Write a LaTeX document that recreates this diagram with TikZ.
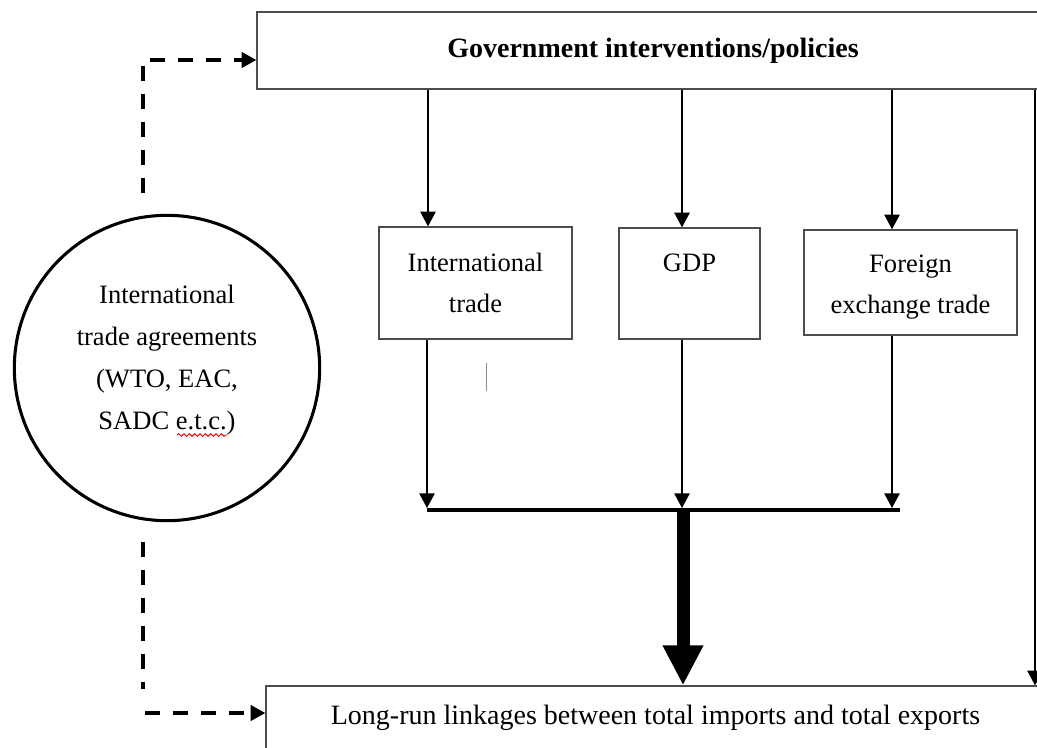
\documentclass[tikz,border=0pt]{standalone}
\usepackage{fontspec}
\setmainfont{Liberation Serif}
\usetikzlibrary{arrows.meta,decorations.pathmorphing}
\tikzset{
  box/.style={draw=black!70, line width=1pt, rectangle, inner sep=0pt, align=center,
    font=\fontsize{19.9}{30.75}\selectfont},
  arr/.style={draw=black, line width=1.1pt, -{Triangle[width=11.5pt,length=11pt]}},
  dasharr/.style={draw=black, line width=2.3pt, dash pattern=on 11.5pt off 9.5pt,
    -{Triangle[width=11.5pt,length=11pt]}},
  dashline/.style={draw=black, line width=2.3pt, dash pattern=on 11.5pt off 9.5pt},
  bar/.style={draw=black, line width=3.6pt},
  bigarr/.style={draw=black, line width=9.75pt, -{Triangle[width=28.5pt,length=30pt]}},
}
\begin{document}
\begin{tikzpicture}[x=0.75pt,y=-0.75pt]
\useasboundingbox (0,0) rectangle (1037,747);
\clip (0,0) rectangle (1037,747);
\fill[white] (0,0) rectangle (1037,747);

% nodes
\node[box, minimum width=594pt, minimum height=57.75pt,
  font=\fontsize{21}{26}\selectfont\bfseries] (gov) at (653,50.5) {Government interventions/policies};
\node[box, minimum width=144.75pt, minimum height=84pt] (it) at (475.5,283) {International\\trade};
\node[box, minimum width=105.75pt, minimum height=83.25pt] (gdp) at (689.5,283.5) {GDP\\\mbox{}};
\node[box, minimum width=159.75pt, minimum height=78.75pt] (fx) at (910.5,282.5)
  {\rule{0pt}{20pt}Foreign\\exchange trade};
\node[box, minimum width=584.25pt, minimum height=48pt,
  font=\fontsize{21}{26}\selectfont] (lr) at (655.5,718) {Long-run linkages between total imports and total exports};
\node[draw=black, line width=2.3pt, circle, minimum size=229pt, inner sep=0pt] (circ) at (167,368) {};
\node[align=center, inner sep=0pt, font=\fontsize{19.9}{31.5}\selectfont] (circtxt) at (167,360)
  {International\\trade agreements\\(WTO, EAC,\\SADC e.t.c.)};

% coordinates for connectors
\coordinate (c1) at (428,0);
\coordinate (c2) at (682,0);
\coordinate (c3) at (892,0);
\coordinate (c4) at (1035,0);
\coordinate (barL) at (427,510);
\coordinate (barR) at (900,510);
\coordinate (b1) at (427,508);
\coordinate (b2) at (682,508);
\coordinate (b3) at (892,508);
\coordinate (bm) at (683,510);
\coordinate (dtop) at (143,193);
\coordinate (dtopc) at (143,60);
\coordinate (dbot) at (143,542);
\coordinate (dbote) at (143,689);
\coordinate (dh) at (145,713);

% arrows from government box
\draw[arr] (gov.south -| c1) -- (it.north -| c1);
\draw[arr] (gov.south -| c2) -- (gdp.north -| c2);
\draw[arr] (gov.south -| c3) -- (fx.north -| c3);
\draw[arr] (gov.south -| c4) -- (lr.north -| c4);

% arrows down to bar
\draw[arr] (it.south -| b1) -- (b1);
\draw[arr] (gdp.south -| b2) -- (b2);
\draw[arr] (fx.south -| b3) -- (b3);
\draw[bar] (barL) -- (barR);
\draw[bigarr] (bm) -- (lr.north -| bm);

% dashed connectors
\draw[dasharr] (dtop) -- (dtopc) -- (gov.west |- dtopc);
\draw[dashline] (dbot) -- (dbote);
\draw[dasharr] (dh) -- (lr.west |- dh);

% small stray mark
\draw[black!45, line width=0.6pt] (486,363) -- (486,391);

% spell-check squiggle
\draw[red, line width=0.7pt, decorate, decoration={snake, segment length=4pt, amplitude=1pt}] (177,435) -- (227,435);
\end{tikzpicture}
\end{document}
